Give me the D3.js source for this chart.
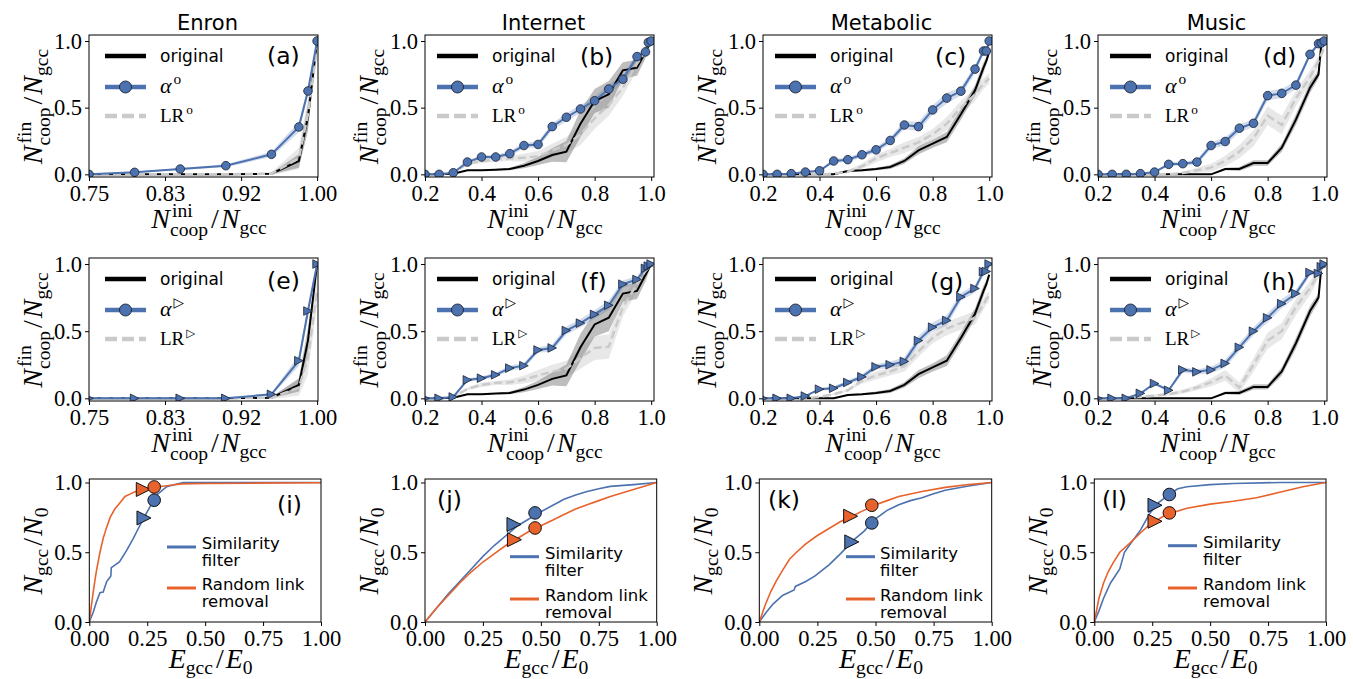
<!DOCTYPE html>
<html>
<head>
<meta charset="utf-8">
<script src="https://cdn.jsdelivr.net/npm/d3@7"></script>
<style>
  body { margin: 0; background: #fff; }
  svg { display: block; }
</style>
</head>
<body>
<script>
// ---------------- data ----------------
const titles = ["Enron", "Internet", "Metabolic", "Music"];
const panelLetters = [["(a)", "(b)", "(c)", "(d)"], ["(e)", "(f)", "(g)", "(h)"], ["(i)", "(j)", "(k)", "(l)"]];

// initial cooperator fractions
const xEnron = [0.75, 0.8, 0.85, 0.9, 0.95, 0.98, 0.99, 1.0];
const xOther = [0.2, 0.25, 0.3, 0.35, 0.4, 0.45, 0.5, 0.55, 0.6, 0.65, 0.7, 0.75, 0.8, 0.85, 0.9, 0.95, 0.98, 0.99, 1.0];

const xTicksEnron = [0.75, 0.8333, 0.9167, 1.0];
const xTickLabelsEnron = ["0.75", "0.83", "0.92", "1.00"];
const xTicksOther = [0.2, 0.4, 0.6, 0.8, 1.0];
const xTickLabelsOther = ["0.2", "0.4", "0.6", "0.8", "1.0"];
const yTicks = [0, 0.5, 1.0];
const yTickLabels = ["0.0", "0.5", "1.0"];
const eTicks = [0, 0.25, 0.5, 0.75, 1.0];
const eTickLabels = ["0.00", "0.25", "0.50", "0.75", "1.00"];

// original networks (same curve for both strategy rows)
const origEnron = [0, 0, 0, 0, 0.005, 0.1, 0.43, 1.0];
const origEnronErr = [0, 0, 0, 0, 0.005, 0.05, 0.1, 0];
const origInternet = [0, 0, 0.005, 0.03, 0.03, 0.035, 0.04, 0.065, 0.1, 0.145, 0.17, 0.38, 0.55, 0.6, 0.78, 0.8, 0.92, 0.96, 1.0];
const origInternetErr = [0, 0, 0.003, 0.005, 0.005, 0.005, 0.01, 0.02, 0.03, 0.05, 0.08, 0.1, 0.09, 0.1, 0.06, 0.06, 0.05, 0.03, 0];
const origMetabolic = [0, 0, 0, 0, 0, 0, 0.025, 0.03, 0.04, 0.055, 0.1, 0.18, 0.23, 0.28, 0.45, 0.63, 0.8, 0.85, 0.92];
const origMetabolicErr = [0, 0, 0, 0, 0, 0.003, 0.006, 0.008, 0.01, 0.015, 0.02, 0.03, 0.03, 0.04, 0.04, 0.04, 0.04, 0.03, 0.03];
const origMusic = [0, 0, 0, 0, 0, 0, 0, 0, 0, 0.04, 0.04, 0.085, 0.085, 0.2, 0.41, 0.65, 0.75, 0.98, 1.0];
const origMusicErr = [0, 0, 0, 0, 0, 0, 0, 0, 0.005, 0.01, 0.015, 0.02, 0.02, 0.03, 0.04, 0.04, 0.03, 0.03, 0];

// circle strategy (row 1)
const alphaA = [0.0, 0.015, 0.04, 0.065, 0.15, 0.355, 0.625, 1.0];
const alphaAErr = [0.003, 0.005, 0.008, 0.01, 0.02, 0.04, 0.03, 0];
const lrA = [0, 0, 0, 0, 0.005, 0.12, 0.45, 0.95];
const lrAErr = [0, 0, 0, 0, 0.01, 0.08, 0.12, 0.04];

const alphaB = [0, 0, 0.012, 0.092, 0.13, 0.13, 0.155, 0.216, 0.224, 0.358, 0.428, 0.49, 0.552, 0.64, 0.714, 0.883, 0.918, 0.99, 1.0];
const alphaBErr = [0, 0, 0.005, 0.012, 0.015, 0.015, 0.02, 0.02, 0.02, 0.025, 0.03, 0.03, 0.03, 0.035, 0.03, 0.025, 0.02, 0.01, 0];
const lrB = [0, 0, 0.01, 0.08, 0.1, 0.11, 0.12, 0.125, 0.135, 0.18, 0.22, 0.3, 0.42, 0.52, 0.65, 0.83, 0.92, 0.96, 1.0];
const lrBErr = [0, 0, 0.005, 0.01, 0.015, 0.015, 0.02, 0.03, 0.04, 0.05, 0.06, 0.08, 0.08, 0.08, 0.06, 0.05, 0.04, 0.02, 0];

const alphaC = [0, 0, 0.005, 0.017, 0.027, 0.1, 0.11, 0.147, 0.184, 0.254, 0.37, 0.358, 0.483, 0.572, 0.624, 0.789, 0.925, 0.925, 1.0];
const alphaCErr = [0, 0, 0.003, 0.005, 0.008, 0.015, 0.015, 0.02, 0.02, 0.025, 0.03, 0.035, 0.035, 0.04, 0.03, 0.03, 0.02, 0.02, 0];
const lrC = [0, 0, 0, 0, 0, 0.005, 0.02, 0.06, 0.12, 0.16, 0.2, 0.24, 0.3, 0.38, 0.5, 0.6, 0.68, 0.7, 0.72];
const lrCErr = [0, 0, 0, 0, 0, 0.005, 0.01, 0.02, 0.03, 0.03, 0.04, 0.04, 0.04, 0.05, 0.05, 0.05, 0.04, 0.04, 0.04];

const alphaD = [0, 0, 0, 0.005, 0.017, 0.075, 0.08, 0.092, 0.216, 0.246, 0.346, 0.383, 0.59, 0.607, 0.669, 0.9, 0.98, 0.985, 1.0];
const alphaDErr = [0, 0, 0, 0.003, 0.005, 0.015, 0.015, 0.02, 0.025, 0.03, 0.03, 0.03, 0.035, 0.035, 0.03, 0.02, 0.01, 0.01, 0];
const lrD = [0, 0, 0, 0, 0, 0, 0.01, 0.03, 0.05, 0.1, 0.17, 0.27, 0.44, 0.37, 0.57, 0.73, 0.85, 0.9, 0.95];
const lrDErr = [0, 0, 0, 0, 0, 0.005, 0.01, 0.02, 0.03, 0.04, 0.05, 0.06, 0.07, 0.07, 0.06, 0.05, 0.04, 0.03, 0.03];

// triangle strategy (row 2)
const alphaE = [0, 0, 0, 0, 0.03, 0.28, 0.65, 1.0];
const alphaEErr = [0, 0, 0, 0, 0.01, 0.04, 0.04, 0];
const lrE = [0, 0, 0, 0, 0.005, 0.08, 0.3, 0.8];
const lrEErr = [0, 0, 0, 0, 0.01, 0.06, 0.12, 0.1];

const alphaF = [0, 0, 0.01, 0.137, 0.15, 0.175, 0.225, 0.243, 0.36, 0.375, 0.505, 0.56, 0.625, 0.693, 0.85, 0.885, 0.968, 0.985, 1.0];
const alphaFErr = [0, 0, 0.005, 0.012, 0.015, 0.015, 0.02, 0.02, 0.02, 0.025, 0.03, 0.03, 0.03, 0.035, 0.03, 0.025, 0.02, 0.01, 0];
const lrF = [0, 0, 0.01, 0.07, 0.1, 0.115, 0.12, 0.14, 0.17, 0.2, 0.22, 0.3, 0.375, 0.385, 0.68, 0.85, 0.95, 0.97, 1.0];
const lrFErr = [0, 0, 0.005, 0.01, 0.015, 0.015, 0.02, 0.03, 0.04, 0.05, 0.06, 0.08, 0.09, 0.09, 0.07, 0.05, 0.04, 0.02, 0];

const alphaG = [0, 0, 0, 0.017, 0.068, 0.075, 0.118, 0.16, 0.235, 0.25, 0.275, 0.43, 0.53, 0.58, 0.755, 0.818, 0.943, 0.945, 1.0];
const alphaGErr = [0, 0, 0.003, 0.005, 0.008, 0.015, 0.015, 0.02, 0.02, 0.025, 0.03, 0.035, 0.035, 0.04, 0.03, 0.03, 0.02, 0.02, 0];
const lrG = [0, 0, 0, 0, 0.01, 0.03, 0.06, 0.13, 0.17, 0.2, 0.24, 0.35, 0.45, 0.52, 0.56, 0.6, 0.7, 0.74, 0.76];
const lrGErr = [0, 0, 0, 0, 0.005, 0.005, 0.01, 0.02, 0.03, 0.03, 0.04, 0.04, 0.04, 0.05, 0.05, 0.05, 0.04, 0.04, 0.04];

const alphaH = [0, 0, 0, 0.037, 0.11, 0.06, 0.212, 0.197, 0.212, 0.26, 0.38, 0.5, 0.6, 0.705, 0.78, 0.937, 0.93, 0.98, 1.0];
const alphaHErr = [0, 0, 0, 0.005, 0.01, 0.01, 0.02, 0.02, 0.025, 0.03, 0.03, 0.03, 0.035, 0.035, 0.03, 0.02, 0.015, 0.01, 0];
const lrH = [0, 0, 0.005, 0.01, 0.02, 0.03, 0.05, 0.08, 0.12, 0.17, 0.08, 0.25, 0.43, 0.5, 0.68, 0.82, 0.93, 0.96, 1.0];
const lrHErr = [0, 0, 0.003, 0.005, 0.01, 0.01, 0.015, 0.02, 0.03, 0.04, 0.04, 0.05, 0.06, 0.06, 0.06, 0.05, 0.04, 0.03, 0];

// giant component vs. remaining links (row 3)
const simIx = [0, 0.017, 0.03, 0.046, 0.06, 0.075, 0.089, 0.093, 0.095, 0.13, 0.16, 0.19, 0.233, 0.26, 0.29, 0.334, 0.37, 0.405, 1.0];
const simIy = [0, 0.07, 0.14, 0.21, 0.215, 0.29, 0.32, 0.33, 0.39, 0.43, 0.51, 0.6, 0.74, 0.82, 0.91, 0.97, 0.985, 1.0, 1.0];
const rndIx = [0, 0.01, 0.02, 0.03, 0.046, 0.06, 0.075, 0.09, 0.11, 0.13, 0.154, 0.18, 0.2, 0.23, 0.26, 0.3, 0.35, 0.4, 0.5, 0.7, 1.0];
const rndIy = [0, 0.13, 0.25, 0.36, 0.5, 0.6, 0.68, 0.75, 0.81, 0.85, 0.9, 0.92, 0.935, 0.95, 0.96, 0.97, 0.98, 0.99, 0.993, 0.995, 0.998];

const simJx = [0, 0.05, 0.1, 0.15, 0.2, 0.25, 0.3, 0.35, 0.4, 0.45, 0.5, 0.55, 0.6, 0.65, 0.7, 0.75, 0.8, 0.9, 1.0];
const simJy = [0, 0.1, 0.2, 0.29, 0.38, 0.47, 0.55, 0.62, 0.69, 0.74, 0.79, 0.835, 0.88, 0.91, 0.935, 0.955, 0.972, 0.985, 1.0];
const rndJx = [0, 0.05, 0.1, 0.15, 0.2, 0.25, 0.3, 0.35, 0.4, 0.45, 0.5, 0.55, 0.6, 0.65, 0.7, 0.75, 0.8, 0.9, 1.0];
const rndJy = [0, 0.1, 0.19, 0.28, 0.36, 0.43, 0.49, 0.55, 0.6, 0.65, 0.69, 0.73, 0.77, 0.81, 0.84, 0.87, 0.9, 0.95, 1.0];

const simKx = [0, 0.03, 0.06, 0.1, 0.15, 0.155, 0.2, 0.24, 0.3, 0.35, 0.4, 0.45, 0.5, 0.55, 0.6, 0.65, 0.7, 0.75, 0.8, 0.9, 1.0];
const simKy = [0, 0.07, 0.13, 0.19, 0.23, 0.255, 0.29, 0.33, 0.41, 0.49, 0.58, 0.65, 0.74, 0.8, 0.84, 0.87, 0.89, 0.92, 0.945, 0.975, 1.0];
const rndKx = [0, 0.025, 0.05, 0.075, 0.1, 0.13, 0.16, 0.2, 0.25, 0.3, 0.35, 0.4, 0.45, 0.5, 0.55, 0.6, 0.7, 0.8, 0.9, 1.0];
const rndKy = [0, 0.12, 0.22, 0.3, 0.37, 0.45, 0.5, 0.56, 0.62, 0.67, 0.72, 0.76, 0.8, 0.84, 0.87, 0.9, 0.935, 0.965, 0.985, 1.0];

const simLx = [0, 0.02, 0.04, 0.07, 0.09, 0.11, 0.13, 0.16, 0.2, 0.24, 0.28, 0.32, 0.36, 0.4, 0.5, 0.6, 0.8, 1.0];
const simLy = [0, 0.08, 0.17, 0.28, 0.33, 0.38, 0.5, 0.57, 0.66, 0.78, 0.86, 0.91, 0.955, 0.97, 0.985, 0.993, 1.0, 1.0];
const rndLx = [0, 0.02, 0.04, 0.06, 0.08, 0.11, 0.15, 0.2, 0.24, 0.3, 0.35, 0.4, 0.5, 0.6, 0.7, 0.8, 0.9, 1.0];
const rndLy = [0, 0.17, 0.28, 0.36, 0.42, 0.5, 0.56, 0.64, 0.7, 0.76, 0.79, 0.815, 0.845, 0.865, 0.89, 0.93, 0.97, 1.0];

// highlighted operating points: [E, N] for circle and triangle strategies
const simCircle = [[0.28, 0.873], [0.475, 0.782], [0.484, 0.71], [0.324, 0.914]];
const simTriangle = [[0.236, 0.746], [0.384, 0.699], [0.398, 0.574], [0.262, 0.837]];
const rndCircle = [[0.28, 0.968], [0.475, 0.674], [0.484, 0.837], [0.324, 0.782]];
const rndTriangle = [[0.233, 0.95], [0.386, 0.59], [0.393, 0.758], [0.262, 0.722]];

// ---------------- layout & style ----------------
const SERIF = "Liberation Serif";
const SANS = "DejaVu Sans";
const BLUE = "#4c72b0";
const ORANGE = "#e8622c";
const EDGE = "#1c2333";

const rowTop = [35, 258, 479];
const rowBottom = [177, 401, 622];
const colLeft = [[89, 425, 763, 1098], [89, 425, 763, 1098], [89.3, 425, 759.3, 1094.3]];
const colRight = [[318, 654, 992, 1327], [318, 654, 992, 1327], [321, 656.7, 991.7, 1326]];
const letterPos = [
  [[267, 63.5], [580, 65], [935, 65], [1263, 65]],
  [[267, 288.5], [580, 290], [930, 290], [1262, 290]],
  [[277, 513], [437, 508], [768, 508], [1102, 508]]
];
// row-3 legend: handle start x, first / second handle y, text x
const gccLegendPos = [[167, 547, 588, 201.7], [510, 556.7, 599, 545], [846, 556.7, 599, 880], [1168, 545.7, 588, 1203]];

const svg = d3.select("body").append("svg")
  .attr("width", 1353).attr("height", 679)
  .attr("font-family", SANS);

// ---------- math-style label helper ----------
function mathLabel(parent, tokens, size, align) {
  const g = parent.append("g");
  const small = size * 0.7;
  let x = 0;
  for (const tk of tokens) {
    if (tk.t !== undefined) {
      x += tk.padL || 0;
      const el = g.append("text").attr("x", x).attr("y", 0)
        .attr("font-family", tk.font || SERIF).attr("font-size", size)
        .attr("font-style", tk.it ? "italic" : "normal").text(tk.t);
      x += el.node().getComputedTextLength() + (tk.pad || 0);
    } else {
      let w = 0;
      if (tk.sup) {
        const el = g.append("text").attr("x", x + 2).attr("y", -size * (tk.supRise || 0.4))
          .attr("font-family", tk.supFont || SERIF)
          .attr("font-size", tk.supSize ? size * tk.supSize : small).text(tk.sup);
        w = Math.max(w, el.node().getComputedTextLength() + 2);
      }
      if (tk.sub) {
        const el = g.append("text").attr("x", x).attr("y", size * (tk.sup ? 0.28 : 0.2))
          .attr("font-family", SERIF).attr("font-size", small).text(tk.sub);
        w = Math.max(w, el.node().getComputedTextLength());
      }
      x += w + 1;
    }
  }
  const shift = align === "start" ? 0 : -x / 2;
  g.selectAll("text").attr("x", function () { return +this.getAttribute("x") + shift; });
  return g;
}

const labelNfrac = (sup) => [
  { t: "N", it: true }, { sup: sup, sub: "coop" },
  { t: "/", padL: 2, pad: 2 }, { t: "N", it: true }, { sub: "gcc" }
];
const labelEfrac = [{ t: "E", it: true }, { sub: "gcc" }, { t: "/", padL: 2, pad: 2 }, { t: "E", it: true }, { sub: "0" }];
const labelNgcc = [{ t: "N", it: true }, { sub: "gcc" }, { t: "/", padL: 2, pad: 2 }, { t: "N", it: true }, { sub: "0" }];

// ---------- shared axis drawing ----------
function drawFrame(g, x, y, left, right, top, bottom, xt, xtl, yt, ytl) {
  const ax = g.append("g").attr("transform", `translate(0,${bottom})`)
    .call(d3.axisBottom(x).tickValues(xt).tickFormat((d, i) => xtl[i]).tickSize(4).tickSizeOuter(0));
  const ay = g.append("g").attr("transform", `translate(${left},0)`)
    .call(d3.axisLeft(y).tickValues(yt).tickFormat((d, i) => ytl[i]).tickSize(4).tickSizeOuter(0));
  [ax, ay].forEach(a => {
    a.select(".domain").remove();
    a.selectAll("line").attr("stroke", "#000").attr("stroke-width", 1);
    a.selectAll("text").attr("font-family", SERIF).attr("font-size", 22.5).attr("fill", "#000");
  });
  ax.selectAll("text").attr("y", 8);
  g.append("rect").attr("x", left).attr("y", top)
    .attr("width", right - left).attr("height", bottom - top)
    .attr("fill", "none").attr("stroke", "#000").attr("stroke-width", 1);
}

let clipCount = 0;
function addClip(left, right, top, bottom) {
  const id = "clip" + (clipCount++);
  svg.append("clipPath").attr("id", id).append("rect")
    .attr("x", left).attr("y", top).attr("width", right - left).attr("height", bottom - top);
  return `url(#${id})`;
}

function triPath(cx, cy, s) {
  return `M${cx + s},${cy}L${cx - s},${cy - s}L${cx - s},${cy + s}Z`;
}

// ---------- strategy panels (rows 1 and 2) ----------
const origSets = [[origEnron, origEnronErr], [origInternet, origInternetErr], [origMetabolic, origMetabolicErr], [origMusic, origMusicErr]];
const alphaSets = [
  [[alphaA, alphaAErr], [alphaB, alphaBErr], [alphaC, alphaCErr], [alphaD, alphaDErr]],
  [[alphaE, alphaEErr], [alphaF, alphaFErr], [alphaG, alphaGErr], [alphaH, alphaHErr]]
];
const lrSets = [
  [[lrA, lrAErr], [lrB, lrBErr], [lrC, lrCErr], [lrD, lrDErr]],
  [[lrE, lrEErr], [lrF, lrFErr], [lrG, lrGErr], [lrH, lrHErr]]
];

function strategyPanel(row, col) {
  const left = colLeft[row][col], right = colRight[row][col];
  const top = rowTop[row], bottom = rowBottom[row];
  const xs = col === 0 ? xEnron : xOther;
  const x = d3.scaleLinear().domain(col === 0 ? [0.75, 1.001] : [0.2, 1.01]).range([left, right]);
  const y = d3.scaleLinear().domain([-0.02, 1.045]).range([bottom, top]);
  const g = svg.append("g");
  const plot = g.append("g").attr("clip-path", addClip(left, right, top, bottom));

  const rows = (vals, errs) => xs.map((xv, i) => ({ x: xv, v: vals[i], e: errs[i] }));
  const area = d3.area().x(d => x(d.x)).y0(d => y(d.v - d.e)).y1(d => y(d.v + d.e));
  const line = d3.line().x(d => x(d.x)).y(d => y(d.v));

  const orig = rows(origSets[col][0], origSets[col][1]);
  const alpha = rows(alphaSets[row][col][0], alphaSets[row][col][1]);
  const lr = rows(lrSets[row][col][0], lrSets[row][col][1]);

  plot.append("path").datum(lr).attr("d", area).attr("fill", "#bdbdbd").attr("fill-opacity", 0.35);
  plot.append("path").datum(orig).attr("d", area).attr("fill", "#6e6e6e").attr("fill-opacity", 0.45);
  plot.append("path").datum(alpha).attr("d", area).attr("fill", BLUE).attr("fill-opacity", 0.25);

  plot.append("path").datum(orig).attr("d", line).attr("fill", "none").attr("stroke", "#000").attr("stroke-width", 2);
  plot.append("path").datum(lr).attr("d", line).attr("fill", "none").attr("stroke", "#cacaca")
    .attr("stroke-width", 2.5).attr("stroke-dasharray", "8,4");
  plot.append("path").datum(alpha).attr("d", line).attr("fill", "none").attr("stroke", BLUE).attr("stroke-width", 2);

  if (row === 0) {
    plot.selectAll("circle.m").data(alpha).join("circle").attr("class", "m")
      .attr("cx", d => x(d.x)).attr("cy", d => y(d.v)).attr("r", 4.3)
      .attr("fill", BLUE).attr("stroke", EDGE).attr("stroke-width", 0.8);
  } else {
    plot.selectAll("path.m").data(alpha).join("path").attr("class", "m")
      .attr("d", d => triPath(x(d.x), y(d.v), 4.3))
      .attr("fill", BLUE).attr("stroke", EDGE).attr("stroke-width", 0.8);
  }

  drawFrame(g, x, y, left, right, top, bottom,
    col === 0 ? xTicksEnron : xTicksOther, col === 0 ? xTickLabelsEnron : xTickLabelsOther,
    yTicks, yTickLabels);

  // legend
  const lx0 = left + (col === 0 ? 16 : 12), lx1 = lx0 + 41, tx = lx0 + 55;
  const ly = [top + 21, top + 52, top + 81];
  g.append("line").attr("x1", lx0).attr("x2", lx1).attr("y1", ly[0]).attr("y2", ly[0])
    .attr("stroke", "#000").attr("stroke-width", 4.5);
  g.append("text").attr("x", tx).attr("y", ly[0] + 6).attr("font-size", 17).text("original");
  g.append("line").attr("x1", lx0).attr("x2", lx1).attr("y1", ly[1]).attr("y2", ly[1])
    .attr("stroke", BLUE).attr("stroke-width", 4.5);
  g.append("circle").attr("cx", (lx0 + lx1) / 2).attr("cy", ly[1]).attr("r", 6)
    .attr("fill", BLUE).attr("stroke", EDGE).attr("stroke-width", 0.9);
  g.append("line").attr("x1", lx0).attr("x2", lx1).attr("y1", ly[2]).attr("y2", ly[2])
    .attr("stroke", "#cacaca").attr("stroke-width", 4.5).attr("stroke-dasharray", "12,5");
  const supTok = row === 0
    ? { sup: "o" }
    : { sup: "\u25B7", supFont: SANS, supSize: 0.62, supRise: 0.42 };
  mathLabel(g.append("g").attr("transform", `translate(${tx},${ly[1] + 6})`),
    [{ t: "\u03B1", it: true }, supTok], 22, "start");
  mathLabel(g.append("g").attr("transform", `translate(${tx},${ly[2] + 6})`),
    [{ t: "LR" }, supTok], 19, "start");

  // panel letter
  g.append("text").attr("x", letterPos[row][col][0]).attr("y", letterPos[row][col][1])
    .attr("font-size", 23.5).text(panelLetters[row][col]);

  // title
  if (row === 0) {
    g.append("text").attr("x", (left + right) / 2 + 4).attr("y", 30)
      .attr("text-anchor", "middle").attr("font-size", 21).text(titles[col]);
  }

  // axis labels
  mathLabel(g.append("g").attr("transform", `translate(${(left + right) / 2 + 6},${bottom + 51})`),
    labelNfrac("ini"), 28, "middle");
  mathLabel(g.append("g").attr("transform", `translate(${left - 47},${(top + bottom) / 2}) rotate(-90)`),
    labelNfrac("fin"), 28, "middle");
}

// ---------- giant component panels (row 3) ----------
const simSets = [[simIx, simIy], [simJx, simJy], [simKx, simKy], [simLx, simLy]];
const rndSets = [[rndIx, rndIy], [rndJx, rndJy], [rndKx, rndKy], [rndLx, rndLy]];

function gccPanel(col) {
  const row = 2;
  const left = colLeft[row][col], right = colRight[row][col];
  const top = rowTop[row], bottom = rowBottom[row];
  const x = d3.scaleLinear().domain([0, 1]).range([left, right]);
  const y = d3.scaleLinear().domain([0, 1.025]).range([bottom, top]);
  const g = svg.append("g");
  const plot = g.append("g").attr("clip-path", addClip(left, right, top, bottom));
  const line = d3.line().x(d => x(d[0])).y(d => y(d[1]));

  const sim = simSets[col][0].map((v, i) => [v, simSets[col][1][i]]);
  const rnd = rndSets[col][0].map((v, i) => [v, rndSets[col][1][i]]);
  plot.append("path").datum(sim).attr("d", line).attr("fill", "none").attr("stroke", BLUE).attr("stroke-width", 1.6);
  plot.append("path").datum(rnd).attr("d", line).attr("fill", "none").attr("stroke", ORANGE).attr("stroke-width", 1.6);

  const pts = [
    { p: rndTriangle[col], c: ORANGE, tri: true },
    { p: rndCircle[col], c: ORANGE, tri: false },
    { p: simTriangle[col], c: BLUE, tri: true },
    { p: simCircle[col], c: BLUE, tri: false }
  ];
  g.selectAll("path.pt").data(pts.filter(d => d.tri)).join("path").attr("class", "pt")
    .attr("d", d => triPath(x(d.p[0]), y(d.p[1]), 7))
    .attr("fill", d => d.c).attr("stroke", "#111").attr("stroke-width", 1);
  g.selectAll("circle.pt").data(pts.filter(d => !d.tri)).join("circle").attr("class", "pt")
    .attr("cx", d => x(d.p[0])).attr("cy", d => y(d.p[1])).attr("r", 6.3)
    .attr("fill", d => d.c).attr("stroke", "#111").attr("stroke-width", 1);

  drawFrame(g, x, y, left, right, top, bottom, eTicks, eTickLabels, yTicks, yTickLabels);

  // legend
  const [hx, hy1, hy2, tx] = gccLegendPos[col];
  [[hy1, BLUE, ["Similarity", "filter"]], [hy2, ORANGE, ["Random link", "removal"]]].forEach(([hy, c, lines]) => {
    g.append("line").attr("x1", hx).attr("x2", hx + 29).attr("y1", hy).attr("y2", hy)
      .attr("stroke", c).attr("stroke-width", 3);
    lines.forEach((s, k) => {
      g.append("text").attr("x", tx).attr("y", hy + 2 + k * 17).attr("font-size", 16.5).text(s);
    });
  });

  g.append("text").attr("x", letterPos[row][col][0]).attr("y", letterPos[row][col][1])
    .attr("font-size", 23.5).text(panelLetters[row][col]);

  mathLabel(g.append("g").attr("transform", `translate(${(left + right) / 2 + 6},${bottom + 46})`),
    labelEfrac, 28, "middle");
  mathLabel(g.append("g").attr("transform", `translate(${left - 47},${(top + bottom) / 2}) rotate(-90)`),
    labelNgcc, 28, "middle");
}

for (let r = 0; r < 2; r++) for (let c = 0; c < 4; c++) strategyPanel(r, c);
for (let c = 0; c < 4; c++) gccPanel(c);
</script>
</body>
</html>
